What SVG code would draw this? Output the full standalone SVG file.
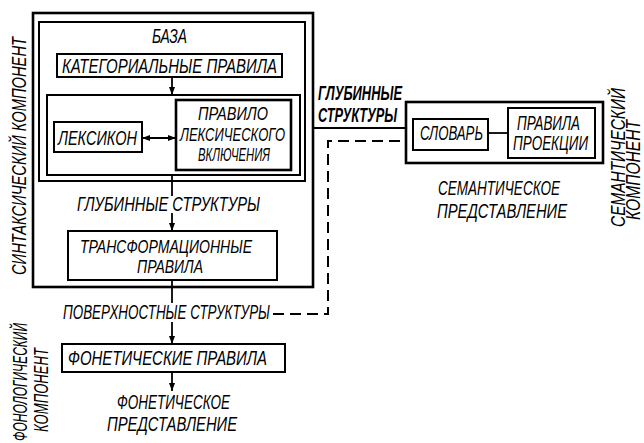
<svg xmlns="http://www.w3.org/2000/svg" width="644" height="443" viewBox="0 0 644 443">
<style>
.box{fill:none;stroke:#000;stroke-width:2}
.thick{fill:none;stroke:#000;stroke-width:2.6}
.ln{fill:none;stroke:#000;stroke-width:1.8}
.dash{fill:none;stroke:#000;stroke-width:2;stroke-dasharray:11 6}
text{font-family:"Liberation Sans","DejaVu Sans",sans-serif;font-style:italic;font-size:19.5px;fill:#000}
.b{font-weight:bold}
.v{font-size:19.5px}
.s{font-size:18px}
</style>
<defs>
<marker id="ah" viewBox="0 0 8 6" refX="8" refY="3" markerWidth="8" markerHeight="6" markerUnits="userSpaceOnUse" orient="auto-start-reverse">
<path d="M0,0 L8,3 L0,6 Z" fill="#000"/>
</marker>
</defs>
<rect width="644" height="443" fill="#fff"/>

<g id="syntactic-component">
<rect class="thick" x="33" y="13" width="280" height="274"/>
<text font-size="18.5" transform="translate(26,275) rotate(-90)" textLength="238" lengthAdjust="spacingAndGlyphs">СИНТАКСИЧЕСКИЙ КОМПОНЕНТ</text>
</g>

<g id="base">
<rect class="box" x="39" y="22" width="266" height="159"/>
<text x="152" y="43" font-size="16" textLength="35" lengthAdjust="spacingAndGlyphs">БАЗА</text>
</g>

<g id="categorial-rules">
<rect class="box" x="57" y="54" width="225" height="23"/>
<text x="62" y="73" font-size="18.5" textLength="215" lengthAdjust="spacingAndGlyphs">КАТЕГОРИАЛЬНЫЕ ПРАВИЛА</text>
</g>

<g id="lexical-block">
<rect class="box" x="47" y="95" width="253" height="80"/>
</g>

<g id="lexicon">
<rect class="box" x="54" y="122" width="88" height="30"/>
<text x="58" y="145" textLength="79" lengthAdjust="spacingAndGlyphs">ЛЕКСИКОН</text>
</g>

<g id="lexical-insertion">
<rect class="thick" x="176" y="100" width="115" height="70"/>
<text class="s" x="198" y="120" textLength="70" lengthAdjust="spacingAndGlyphs">ПРАВИЛО</text>
<text class="s" x="180" y="141" textLength="105" lengthAdjust="spacingAndGlyphs">ЛЕКСИЧЕСКОГО</text>
<text class="s" x="198" y="161" textLength="72" lengthAdjust="spacingAndGlyphs">ВКЛЮЧЕНИЯ</text>
</g>

<g id="deep-structures-label">
<text x="77" y="211" textLength="183" lengthAdjust="spacingAndGlyphs">ГЛУБИННЫЕ СТРУКТУРЫ</text>
</g>

<g id="transformational-rules">
<rect class="box" x="68" y="231" width="209" height="49"/>
<text class="s" x="80" y="253" textLength="172" lengthAdjust="spacingAndGlyphs">ТРАНСФОРМАЦИОННЫЕ</text>
<text class="s" x="137" y="273" textLength="66" lengthAdjust="spacingAndGlyphs">ПРАВИЛА</text>
</g>

<g id="surface-structures-label">
<text x="63" y="319" textLength="207" lengthAdjust="spacingAndGlyphs">ПОВЕРХНОСТНЫЕ СТРУКТУРЫ</text>
</g>

<g id="phonological-component">
<text class="v" transform="translate(27,441) rotate(-90)" textLength="118" lengthAdjust="spacingAndGlyphs">ФОНОЛОГИЧЕСКИЙ</text>
<text font-size="18" transform="translate(48,432) rotate(-90)" textLength="84" lengthAdjust="spacingAndGlyphs">КОМПОНЕНТ</text>
</g>

<g id="phonetic-rules">
<rect class="box" x="62" y="344" width="223" height="28"/>
<text x="68" y="365" font-size="18.5" textLength="199" lengthAdjust="spacingAndGlyphs">ФОНЕТИЧЕСКИЕ ПРАВИЛА</text>
</g>

<g id="phonetic-representation">
<text x="117" y="409" textLength="113" lengthAdjust="spacingAndGlyphs">ФОНЕТИЧЕСКОЕ</text>
<text x="107" y="431" textLength="130" lengthAdjust="spacingAndGlyphs">ПРЕДСТАВЛЕНИЕ</text>
</g>

<g id="deep-structures-link-label">
<text class="b" x="318" y="100" textLength="84" lengthAdjust="spacingAndGlyphs">ГЛУБИННЫЕ</text>
<text class="b" x="318" y="122" textLength="79" lengthAdjust="spacingAndGlyphs">СТРУКТУРЫ</text>
</g>

<g id="semantic-component">
<rect class="thick" x="406" y="102" width="197" height="61"/>
<text transform="translate(625,227) rotate(-90)" textLength="139" lengthAdjust="spacingAndGlyphs">СЕМАНТИЧЕСКИЙ</text>
<text font-size="16.5" transform="translate(640,220) rotate(-90)" textLength="100" lengthAdjust="spacingAndGlyphs">КОМПОНЕНТ</text>
</g>

<g id="dictionary">
<rect class="box" x="413" y="119" width="75" height="31"/>
<text x="420" y="140" textLength="63" lengthAdjust="spacingAndGlyphs">СЛОВАРЬ</text>
</g>

<g id="projection-rules">
<rect class="box" x="508" y="108" width="87" height="50"/>
<text x="517" y="130" font-size="18.5" textLength="63" lengthAdjust="spacingAndGlyphs">ПРАВИЛА</text>
<text x="513" y="150" font-size="18.5" textLength="75" lengthAdjust="spacingAndGlyphs">ПРОЕКЦИИ</text>
</g>

<g id="semantic-representation">
<text x="438" y="195" textLength="122" lengthAdjust="spacingAndGlyphs">СЕМАНТИЧЕСКОЕ</text>
<text x="437" y="218" textLength="130" lengthAdjust="spacingAndGlyphs">ПРЕДСТАВЛЕНИЕ</text>
</g>

<g id="connectors">
<line class="ln" x1="172" y1="77" x2="172" y2="95" marker-end="url(#ah)"/>
<line class="ln" x1="142" y1="138" x2="176" y2="138" marker-start="url(#ah)" marker-end="url(#ah)"/>
<line class="ln" x1="172" y1="175" x2="172" y2="196"/>
<line class="ln" x1="172" y1="213" x2="172" y2="231" marker-end="url(#ah)"/>
<line class="ln" x1="172" y1="280" x2="172" y2="303"/>
<line class="ln" x1="172" y1="322" x2="172" y2="344" marker-end="url(#ah)"/>
<line class="ln" x1="172" y1="372" x2="172" y2="391" marker-end="url(#ah)"/>
<line class="ln" x1="313" y1="128" x2="406" y2="128"/>
<polyline class="dash" points="273,314 328,314 328,141 406,141"/>
<line class="ln" x1="488" y1="133" x2="508" y2="133"/>
</g>
</svg>
